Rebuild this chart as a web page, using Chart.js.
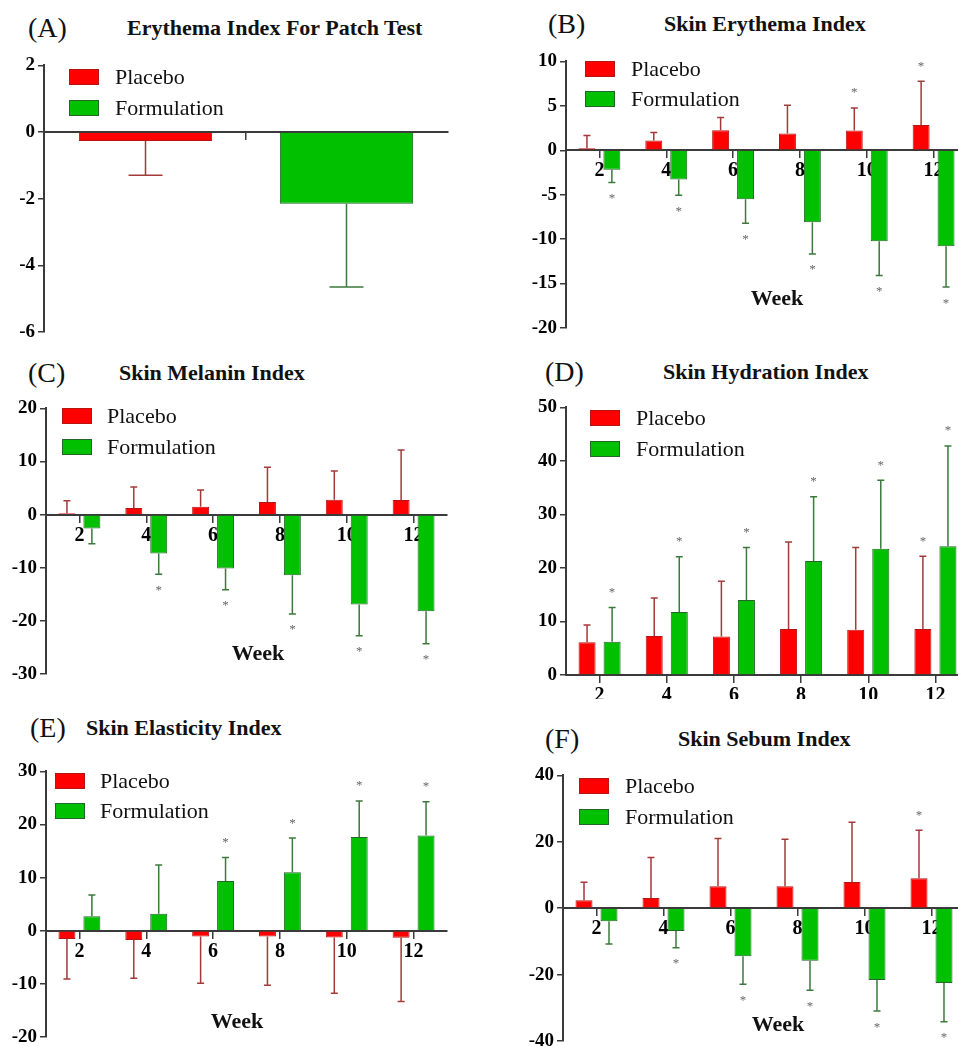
<!DOCTYPE html>
<html>
<head>
<meta charset="utf-8">
<script src="https://cdn.jsdelivr.net/npm/chart.js@4.4.1/dist/chart.umd.min.js"></script>
<style>
  html, body { margin: 0; padding: 0; width: 958px; height: 1046px; overflow: hidden; background: #fff; }
  .serif { font-family: "Liberation Serif", "Times New Roman", serif; color: #111; }
  .abs { position: absolute; white-space: nowrap; }
  canvas { position: absolute; }
  .tag { font-size: 28px; line-height: 30px; }
  .title { font-size: 22px; font-weight: bold; line-height: 26px; }
  .leg { font-size: 22px; line-height: 24px; }
  .sw { position: absolute; width: 28px; height: 14px; border: 1px solid; }
  .week { font-size: 22px; font-weight: bold; line-height: 26px; }
</style>
</head>
<body>
<script>
// Shared categories and series names
const weeks = ['2', '4', '6', '8', '10', '12'];
const patchLabels = [''];
const seriesNames = ['Placebo', 'Formulation'];

// (A) Erythema index, patch test (mean, SD)
const patchPlacebo = [-0.27];
const patchPlaceboErr = [1.03];
const patchFormulation = [-2.15];
const patchFormulationErr = [2.5];

// (B) Skin erythema index by week
const erythemaPlacebo = [0.22, 1.09, 2.25, 1.88, 2.22, 2.85];
const erythemaPlaceboErr = [1.43, 0.91, 1.45, 3.18, 2.55, 4.91];
const erythemaPlaceboSig = [0, 0, 0, 0, 1, 1];
const erythemaFormulation = [-2.2, -3.3, -5.5, -8.1, -10.24, -10.8];
const erythemaFormulationErr = [1.43, 1.76, 2.7, 3.56, 3.86, 4.6];
const erythemaFormulationSig = [1, 1, 1, 1, 1, 1];

// (C) Skin melanin index by week
const melaninPlacebo = [0.25, 1.26, 1.5, 2.39, 2.82, 2.76];
const melaninPlaceboErr = [2.35, 3.94, 3.14, 6.51, 5.38, 9.4];
const melaninPlaceboSig = [0, 0, 0, 0, 0, 0];
const melaninFormulation = [-2.63, -7.33, -10.15, -11.4, -16.9, -18.2];
const melaninFormulationErr = [2.87, 3.87, 4.0, 7.3, 5.9, 6.1];
const melaninFormulationSig = [0, 1, 1, 1, 1, 1];

// (D) Skin hydration index by week
const hydrationPlacebo = [6.1, 7.28, 7.2, 8.58, 8.45, 8.58];
const hydrationPlaceboErr = [3.23, 7.09, 10.3, 16.29, 15.35, 13.62];
const hydrationPlaceboSig = [0, 0, 0, 0, 0, 1];
const hydrationFormulation = [6.2, 11.75, 14.0, 21.3, 23.6, 24.07];
const hydrationFormulationErr = [6.4, 10.35, 9.8, 12.0, 12.8, 18.73];
const hydrationFormulationSig = [1, 1, 1, 1, 1, 1];

// (E) Skin elasticity index by week
const elasticityPlacebo = [-1.56, -1.75, -1.06, -1.06, -1.25, -1.31];
const elasticityPlaceboErr = [7.54, 7.19, 8.82, 9.2, 10.51, 11.99];
const elasticityPlaceboSig = [0, 0, 0, 0, 0, 0];
const elasticityFormulation = [2.75, 3.19, 9.38, 11.0, 17.63, 17.94];
const elasticityFormulationErr = [4.0, 9.19, 4.42, 6.44, 6.81, 6.37];
const elasticityFormulationSig = [0, 0, 1, 1, 1, 1];

// (F) Skin sebum index by week
const sebumPlacebo = [2.4, 3.1, 6.6, 6.6, 7.9, 9.0];
const sebumPlaceboErr = [5.4, 12.2, 14.4, 14.2, 18.0, 14.5];
const sebumPlaceboSig = [0, 0, 0, 0, 0, 1];
const sebumFormulation = [-3.9, -6.9, -14.5, -15.8, -21.6, -22.5];
const sebumFormulationErr = [6.9, 5.0, 8.4, 8.9, 9.4, 11.7];
const sebumFormulationSig = [0, 1, 1, 1, 1, 1];

const SERIF = '"Liberation Serif", "Times New Roman", serif';
const AXIS = '#3a3a3a';
const RED = '#ff0000', RED_EDGE = '#b81414', RED_ERR = '#a33a3a';
const GREEN = '#00c000', GREEN_EDGE = '#24662a', GREEN_ERR = '#3c7a3c';

// Error bars with caps, plus significance asterisks beyond the cap
const errorBars = {
  id: 'errorBars',
  afterDatasetsDraw(chart) {
    const ctx = chart.ctx;
    const ys = chart.scales.y;
    chart.data.datasets.forEach((ds, i) => {
      const meta = chart.getDatasetMeta(i);
      meta.data.forEach((bar, j) => {
        const v = ds.data[j];
        const dir = v < 0 ? -1 : 1;
        const tip = ys.getPixelForValue(v + dir * ds.err[j]);
        ctx.save();
        ctx.strokeStyle = ds.errColor;
        ctx.lineWidth = 1.5;
        ctx.beginPath();
        ctx.moveTo(bar.x, bar.y);
        ctx.lineTo(bar.x, tip);
        ctx.moveTo(bar.x - ds.cap, tip);
        ctx.lineTo(bar.x + ds.cap, tip);
        ctx.stroke();
        if (ds.sig && ds.sig[j]) {
          ctx.fillStyle = '#666';
          ctx.font = '13px ' + SERIF;
          ctx.textAlign = 'center';
          ctx.textBaseline = 'middle';
          ctx.fillText('*', bar.x, dir > 0 ? tip - 15 : tip + 16);
        }
        ctx.restore();
      });
    });
  }
};

const panels = [
  { tag: '(A)', title: 'Erythema Index For Patch Test', labels: patchLabels,
    a: [patchPlacebo, patchPlaceboErr, null], b: [patchFormulation, patchFormulationErr, null],
    min: -6, max: 2, step: 2, area: { l: 44, r: 448, t: 65, b: 332 },
    cat: 0.995, bar: 0.663, cap: 17, xPad: 2,
    tagPos: [28, 28], titlePos: [127, 28], legend: [69, 69, 100, 115], week: null },
  { tag: '(B)', title: 'Skin Erythema Index', labels: weeks,
    a: [erythemaPlacebo, erythemaPlaceboErr, erythemaPlaceboSig],
    b: [erythemaFormulation, erythemaFormulationErr, erythemaFormulationSig],
    min: -20, max: 10, step: 5, area: { l: 566, r: 967, t: 61, b: 328 },
    cat: 0.746, bar: 0.68, cap: 3.5, xPad: 2,
    tagPos: [548, 24], titlePos: [664, 24], legend: [585, 61, 91, 631], week: [777, 298] },
  { tag: '(C)', title: 'Skin Melanin Index', labels: weeks,
    a: [melaninPlacebo, melaninPlaceboErr, melaninPlaceboSig],
    b: [melaninFormulation, melaninFormulationErr, melaninFormulationSig],
    min: -30, max: 20, step: 10, area: { l: 46, r: 447, t: 408, b: 674 },
    cat: 0.746, bar: 0.68, cap: 3.5, xPad: 2,
    tagPos: [28, 373], titlePos: [119, 373], legend: [62, 408, 439, 107], week: [258, 653] },
  { tag: '(D)', title: 'Skin Hydration Index', labels: weeks,
    a: [hydrationPlacebo, hydrationPlaceboErr, hydrationPlaceboSig],
    b: [hydrationFormulation, hydrationFormulationErr, hydrationFormulationSig],
    min: 0, max: 50, step: 10, area: { l: 566, r: 969, t: 407, b: 675 },
    cat: 0.746, bar: 0.68, cap: 3.5, xPad: 2, clipBottom: 699,
    tagPos: [545, 372], titlePos: [663, 372], legend: [590, 410, 441, 636], week: null },
  { tag: '(E)', title: 'Skin Elasticity Index', labels: weeks,
    a: [elasticityPlacebo, elasticityPlaceboErr, elasticityPlaceboSig],
    b: [elasticityFormulation, elasticityFormulationErr, elasticityFormulationSig],
    min: -20, max: 30, step: 10, area: { l: 46, r: 447, t: 771, b: 1037 },
    cat: 0.746, bar: 0.68, cap: 3.5, xPad: 2,
    tagPos: [30, 728], titlePos: [86, 728], legend: [55, 773, 803, 100], week: [237, 1021] },
  { tag: '(F)', title: 'Skin Sebum Index', labels: weeks,
    a: [sebumPlacebo, sebumPlaceboErr, sebumPlaceboSig],
    b: [sebumFormulation, sebumFormulationErr, sebumFormulationSig],
    min: -40, max: 40, step: 20, area: { l: 563, r: 965, t: 775, b: 1041 },
    cat: 0.746, bar: 0.68, cap: 3.5, xPad: 2,
    tagPos: [545, 739], titlePos: [678, 739], legend: [579, 778, 809, 625], week: [778, 1024] }
];

function addText(cls, text, left, cy, lh, center) {
  const d = document.createElement('div');
  d.className = 'abs serif ' + cls;
  d.textContent = text;
  d.style.top = (cy - lh / 2) + 'px';
  d.style.left = left + 'px';
  if (center) d.style.transform = 'translateX(-50%)';
  document.body.appendChild(d);
}

function addSwatch(left, top, fill, edge) {
  const s = document.createElement('div');
  s.className = 'sw';
  s.style.left = left + 'px';
  s.style.top = top + 'px';
  s.style.background = fill;
  s.style.borderColor = edge;
  document.body.appendChild(s);
}

const Y_W = 50, PT = 14, PB = 16, PR = 10;

panels.forEach(p => {
  const A = p.area;
  const bottomPad = p.clipBottom ? p.clipBottom - A.b : PB;
  const cv = document.createElement('canvas');
  const w = (A.r - A.l) + Y_W + PR;
  const h = (A.b - A.t) + PT + bottomPad;
  cv.width = w; cv.height = h;
  cv.style.width = w + 'px'; cv.style.height = h + 'px';
  cv.style.left = (A.l - Y_W) + 'px';
  cv.style.top = (A.t - PT) + 'px';
  document.body.appendChild(cv);

  new Chart(cv, {
    type: 'bar',
    data: {
      labels: p.labels,
      datasets: [
        { label: seriesNames[0], data: p.a[0], err: p.a[1], sig: p.a[2],
          backgroundColor: RED, borderColor: RED_EDGE, borderWidth: 1,
          errColor: RED_ERR, cap: p.cap },
        { label: seriesNames[1], data: p.b[0], err: p.b[1], sig: p.b[2],
          backgroundColor: GREEN, borderColor: GREEN_EDGE, borderWidth: 1,
          errColor: GREEN_ERR, cap: p.cap }
      ]
    },
    options: {
      responsive: false,
      animation: false,
      devicePixelRatio: 1,
      layout: { padding: { left: 0, right: PR, top: PT, bottom: bottomPad } },
      plugins: { legend: { display: false }, tooltip: { enabled: false } },
      datasets: { bar: { categoryPercentage: p.cat, barPercentage: p.bar } },
      scales: {
        x: {
          type: 'category',
          position: { y: 0 },
          offset: true,
          grid: { display: true, drawOnChartArea: false, drawTicks: true, tickLength: 7,
                  color: AXIS, lineWidth: 1.5, offset: false },
          border: { display: true, color: AXIS, width: 2 },
          ticks: { font: { family: SERIF, size: 20, weight: 'bold' }, color: '#000',
                   padding: p.xPad, maxRotation: 0, autoSkip: false }
        },
        y: {
          min: p.min, max: p.max,
          ticks: { stepSize: p.step, font: { family: SERIF, size: 19, weight: 'bold' },
                   color: '#000', padding: 3 },
          grid: { drawOnChartArea: false, tickLength: 6, color: AXIS, lineWidth: 1.5 },
          border: { display: true, color: AXIS, width: 2 },
          afterFit(s) { s.width = Y_W; }
        }
      }
    },
    plugins: [errorBars]
  });

  addText('tag', p.tag, p.tagPos[0], p.tagPos[1], 30, false);
  addText('title', p.title, p.titlePos[0], p.titlePos[1], 26, false);
  const [lx, ry, gy, tx] = p.legend;
  addSwatch(lx, ry, RED, RED_EDGE);
  addSwatch(lx, gy, GREEN, GREEN_EDGE);
  addText('leg', seriesNames[0], tx, ry + 8, 24, false);
  addText('leg', seriesNames[1], tx, gy + 8, 24, false);
  if (p.week) addText('week', 'Week', p.week[0], p.week[1], 26, true);
});
</script>
</body>
</html>
